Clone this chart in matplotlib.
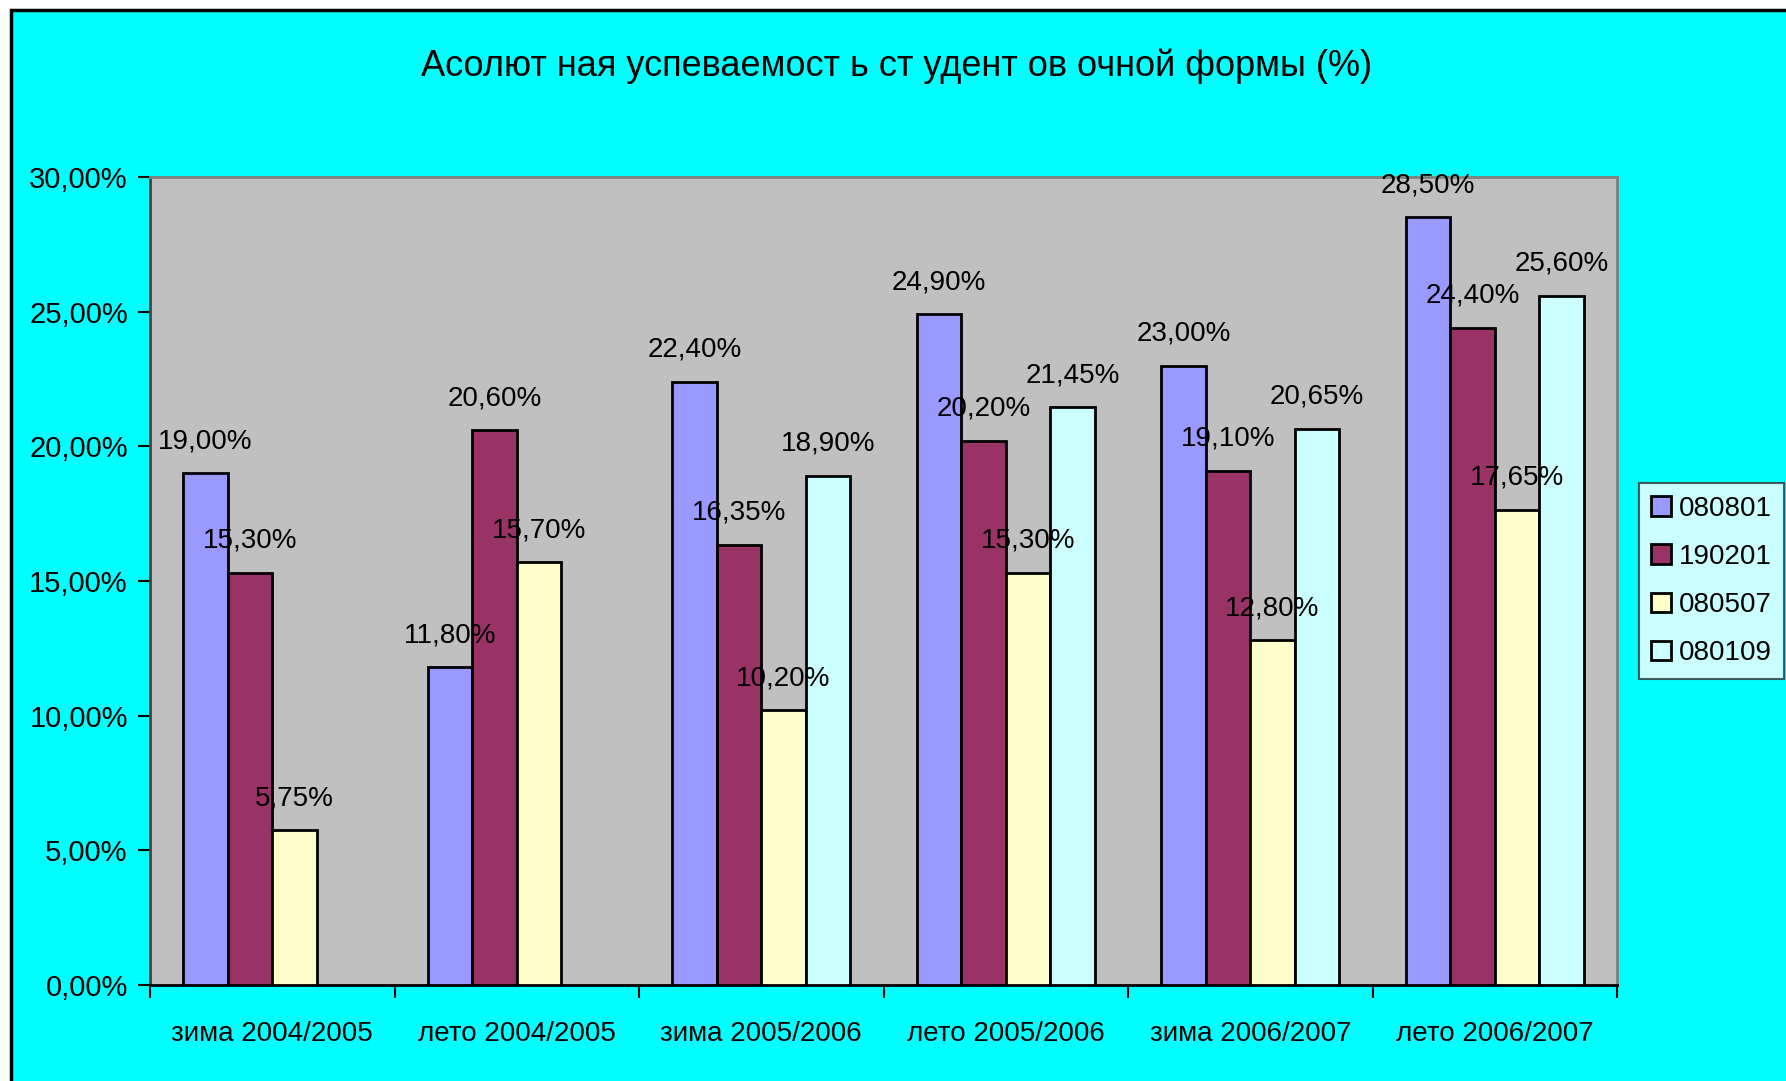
import numpy as np
import matplotlib
matplotlib.use("Agg")
import matplotlib.pyplot as plt
from matplotlib.patches import Rectangle

categories = ["зима 2004/2005", "лето 2004/2005", "зима 2005/2006",
              "лето 2005/2006", "зима 2006/2007", "лето 2006/2007"]
series_names = ["080801", "190201", "080507", "080109"]
s080801 = [19.00, 11.80, 22.40, 24.90, 23.00, 28.50]
s190201 = [15.30, 20.60, 16.35, 20.20, 19.10, 24.40]
s080507 = [5.75, 15.70, 10.20, 15.30, 12.80, 17.65]
s080109 = [np.nan, np.nan, 18.90, 21.45, 20.65, 25.60]
yticks = [0, 5, 10, 15, 20, 25, 30]
title = "Асолют ная успеваемост ь ст удент ов очной формы (%)"

colors = ["#9999FF", "#993366", "#FFFFCC", "#CCFFFF"]
FONT = ["Liberation Sans Narrow", "Liberation Sans", "DejaVu Sans"]
plt.rcParams['font.family'] = FONT

W, H = 1786, 1081
fig = plt.figure(figsize=(W / 100, H / 100), dpi=100)
fig.patch.set_facecolor("white")
bgrect = Rectangle((11 / W, -0.1), 1.2, 1 - 10 / H + 0.1,
                   transform=fig.transFigure, facecolor="#00FFFF",
                   edgecolor="black", linewidth=2.5, zorder=-5)
fig.patches.append(bgrect)

ax = fig.add_axes([150 / W, 1 - 985 / H, (1617 - 150) / W, (985 - 177) / H])
ax.set_zorder(2)
ax.set_facecolor("#C0C0C0")

data = [s080801, s190201, s080507, s080109]
n = len(data)
bw = 1 / (n + 1.5)
x = np.arange(len(categories))
for i, (vals, c, name) in enumerate(zip(data, colors, series_names)):
    xs = x + 0.5 - n * bw / 2 + bw * (i + 0.5)
    ax.bar(xs, vals, width=bw, color=c, edgecolor="black", linewidth=2,
           label=name, zorder=3)
    for xi, v in zip(xs, vals):
        if np.isnan(v):
            continue
        ax.annotate(f"{v:.2f}%".replace(".", ","), (xi, v),
                    xytext=(0, 32), textcoords="offset pixels",
                    ha="center", va="center", fontsize=20, zorder=5,
                    annotation_clip=False)

ax.set_xlim(0, len(categories))
ax.set_ylim(0, 30)
ax.set_yticks(yticks)
ax.set_yticklabels([f"{t:.2f}%".replace(".", ",") for t in yticks], fontsize=21)
ax.set_xticks(np.arange(len(categories) + 1))
ax.set_xticklabels([])
ax.set_xticks(x + 0.5, minor=True)
ax.set_xticklabels(categories, minor=True, fontsize=20)
ax.tick_params(axis="x", which="minor", length=0, pad=26)
ax.tick_params(axis="x", which="major", length=9, width=1.5, direction="out")
ax.tick_params(axis="y", length=9, width=1.5, direction="out", pad=7)

for side in ["top", "right"]:
    ax.spines[side].set_color("#808080")
    ax.spines[side].set_linewidth(2)
ax.spines["left"].set_color("#404040")
ax.spines["left"].set_linewidth(2)
ax.spines["bottom"].set_color("black")
ax.spines["bottom"].set_linewidth(2)

fig.text(897 / W, 1 - 66 / H, title, ha="center", va="center", fontsize=26)

leg = ax.legend(loc="center",
                bbox_to_anchor=(1642 / W, 1 - 679 / H, (1781 - 1642) / W, 196 / H),
                bbox_transform=fig.transFigure, fancybox=False, shadow=False,
                frameon=True, fontsize=20, handlelength=0.7, handleheight=0.7,
                handletextpad=0.3, labelspacing=0.8, borderpad=0.45,
                borderaxespad=0)
leg.get_frame().set_edgecolor("#333333")
leg.get_frame().set_linewidth(1.5)
leg.get_frame().set_facecolor("white")

fig.savefig("out.png", dpi=100, facecolor=fig.get_facecolor())
